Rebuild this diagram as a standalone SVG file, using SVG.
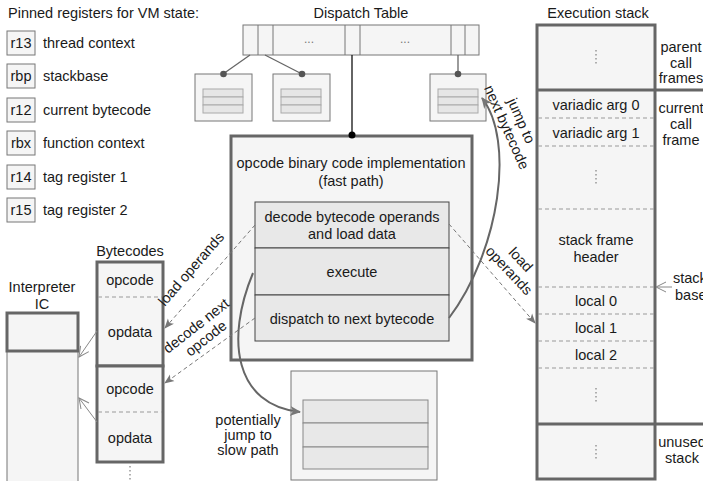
<svg xmlns="http://www.w3.org/2000/svg" width="703" height="481" viewBox="0 0 703 481">
<defs>
<style>
text{font-family:"Liberation Sans",Arial,sans-serif;font-size:14.5px;fill:#1a1a1a}
.c{text-anchor:middle}
.thick{fill:#f5f5f5;stroke:#666;stroke-width:3}
.thin{fill:#f5f5f5;stroke:#777;stroke-width:1}
.inner{fill:#e8e8e8;stroke:#444;stroke-width:1}
.stripe{fill:#e6e6e6;stroke:#aaa;stroke-width:1}
.dash{stroke:#999;stroke-width:1;stroke-dasharray:4,3;fill:none}
.vdots{stroke:#888;stroke-width:1.3;stroke-dasharray:1.5,2.5;fill:none}
.darr{stroke:#777;stroke-width:1;stroke-dasharray:4,3;fill:none;marker-end:url(#fill)}
.curve{stroke:#666;stroke-width:2;fill:none;marker-end:url(#fillbig)}
.oarr{stroke:#888;stroke-width:1;fill:none;marker-end:url(#open)}
.tline{stroke:#666;stroke-width:1.3;fill:none}
.dots{fill:#777;font-size:12px}
</style>
<marker id="fill" markerWidth="10" markerHeight="10" refX="9" refY="5" orient="auto" markerUnits="userSpaceOnUse"><path d="M0,1 L10,5 L0,9 L2.5,5 Z" fill="#777"/></marker>
<marker id="fillbig" markerWidth="12" markerHeight="12" refX="10" refY="6" orient="auto" markerUnits="userSpaceOnUse"><path d="M0,1 L11,6 L0,11 L3,6 Z" fill="#777"/></marker>
<marker id="open" markerWidth="12" markerHeight="12" refX="11" refY="6" orient="auto" markerUnits="userSpaceOnUse"><path d="M1,1 L11,6 L1,11" fill="none" stroke="#888" stroke-width="1"/></marker>
</defs>
<rect width="703" height="481" fill="#fff"/>

<g id="registers">
<text x="8" y="18">Pinned registers for VM state:</text>
<rect class="thin" x="7" y="31" width="28" height="24"/><text class="c" x="21" y="48">r13</text><text x="43" y="48">thread context</text>
<rect class="thin" x="7" y="64" width="28" height="24"/><text class="c" x="21" y="81">rbp</text><text x="43" y="81">stackbase</text>
<rect class="thin" x="7" y="98" width="28" height="24"/><text class="c" x="21" y="115">r12</text><text x="43" y="115">current bytecode</text>
<rect class="thin" x="7" y="131" width="28" height="24"/><text class="c" x="21" y="148">rbx</text><text x="43" y="148">function context</text>
<rect class="thin" x="7" y="165" width="28" height="24"/><text class="c" x="21" y="182">r14</text><text x="43" y="182">tag register 1</text>
<rect class="thin" x="7" y="198" width="28" height="24"/><text class="c" x="21" y="215">r15</text><text x="43" y="215">tag register 2</text>
</g>

<g id="dispatch-table">
<text class="c" x="361" y="18">Dispatch Table</text>
<rect class="thin" x="243" y="25" width="236" height="30"/>
<path d="M258,25V55M273,25V55M345,25V55M360,25V55M451,25V55M465,25V55" stroke="#777" stroke-width="1"/>
<text class="c dots" x="309" y="43">...</text>
<text class="c dots" x="405" y="43">...</text>
</g>

<g id="handler-1">
<rect class="thin" x="195" y="74" width="57" height="47"/>
<rect class="stripe" x="203" y="89" width="40" height="8"/><rect class="stripe" x="203" y="97" width="40" height="8"/><rect class="stripe" x="203" y="105" width="40" height="8"/>
</g>
<g id="handler-2">
<rect class="thin" x="273" y="74" width="57" height="47"/>
<rect class="stripe" x="281" y="89" width="40" height="8"/><rect class="stripe" x="281" y="97" width="40" height="8"/><rect class="stripe" x="281" y="105" width="40" height="8"/>
</g>
<g id="handler-3">
<rect class="thin" x="430" y="74" width="56" height="47"/>
<rect class="stripe" x="438" y="89" width="40" height="8"/><rect class="stripe" x="438" y="97" width="40" height="8"/><rect class="stripe" x="438" y="105" width="40" height="8"/>
</g>

<g id="fast-path">
<rect class="thick" x="231" y="136" width="241" height="224"/>
<text class="c" x="351" y="168">opcode binary code implementation</text>
<text class="c" x="351" y="186">(fast path)</text>
<rect class="inner" x="255" y="202" width="194" height="46"/>
<rect class="inner" x="255" y="248" width="194" height="47"/>
<rect class="inner" x="255" y="295" width="194" height="46"/>
<text class="c" x="352" y="222">decode bytecode operands</text>
<text class="c" x="352" y="239">and load data</text>
<text class="c" x="352" y="277">execute</text>
<text class="c" x="352" y="324">dispatch to next bytecode</text>
</g>

<g id="slow-path">
<rect class="thin" x="291" y="371" width="146" height="109"/>
<rect class="inner" x="303" y="400" width="125" height="23" style="stroke:#888"/>
<rect class="inner" x="303" y="423" width="125" height="24" style="stroke:#888"/>
<rect class="inner" x="303" y="447" width="125" height="22" style="stroke:#888"/>
</g>

<g id="bytecodes">
<text class="c" x="130" y="256">Bytecodes</text>
<rect class="thick" x="97" y="262" width="66" height="104"/>
<rect class="thick" x="97" y="366" width="66" height="96"/>
<line class="dash" x1="98" y1="297" x2="162" y2="297"/>
<line class="dash" x1="98" y1="412" x2="162" y2="412"/>
<text class="c" x="130" y="285">opcode</text>
<text class="c" x="130" y="337">opdata</text>
<text class="c" x="130" y="394">opcode</text>
<text class="c" x="130" y="443">opdata</text>
<line class="vdots" x1="130" y1="466" x2="130" y2="481"/>
</g>

<g id="interpreter-ic">
<text class="c" x="42" y="292">Interpreter</text>
<text class="c" x="42" y="309">IC</text>
<rect class="thin" x="7" y="351" width="71" height="135"/>
<rect class="thick" x="7" y="313" width="71" height="38"/>
</g>

<g id="execution-stack">
<text class="c" x="598" y="18">Execution stack</text>
<rect class="thick" x="537" y="25" width="118" height="454"/>
<line x1="537" y1="90" x2="703" y2="90" stroke="#666" stroke-width="3"/>
<line x1="537" y1="424" x2="703" y2="424" stroke="#666" stroke-width="3"/>
<line class="dash" x1="538" y1="118" x2="654" y2="118"/>
<line class="dash" x1="538" y1="146" x2="654" y2="146"/>
<line class="dash" x1="538" y1="209" x2="654" y2="209"/>
<line class="dash" x1="538" y1="287" x2="654" y2="287"/>
<line class="dash" x1="538" y1="314" x2="654" y2="314"/>
<line class="dash" x1="538" y1="341" x2="654" y2="341"/>
<line class="dash" x1="538" y1="368" x2="654" y2="368"/>
<line class="vdots" x1="596" y1="50" x2="596" y2="64"/>
<line class="vdots" x1="596" y1="170" x2="596" y2="184"/>
<line class="vdots" x1="596" y1="388" x2="596" y2="402"/>
<line class="vdots" x1="596" y1="445" x2="596" y2="459"/>
<text class="c" x="596" y="110">variadic arg 0</text>
<text class="c" x="596" y="138">variadic arg 1</text>
<text class="c" x="596" y="245">stack frame</text>
<text class="c" x="596" y="262">header</text>
<text class="c" x="596" y="306">local 0</text>
<text class="c" x="596" y="333">local 1</text>
<text class="c" x="596" y="360">local 2</text>
<text class="c" x="681" y="52">parent</text>
<text class="c" x="681" y="68">call</text>
<text class="c" x="681" y="83">frames</text>
<text class="c" x="681" y="113">current</text>
<text class="c" x="681" y="129">call</text>
<text class="c" x="681" y="145">frame</text>
<text x="673" y="283">stack</text>
<text x="675" y="300">base</text>
<text class="c" x="682" y="447">unused</text>
<text class="c" x="682" y="463">stack</text>
</g>

<g id="connectors">
<line class="tline" x1="250" y1="55" x2="223" y2="74"/>
<line class="tline" x1="265" y1="55" x2="302" y2="74"/>
<line class="tline" x1="458" y1="55" x2="458" y2="74"/>
<line x1="352" y1="55" x2="352" y2="135" stroke="#111" stroke-width="1.3"/>
<circle cx="223.5" cy="74" r="3.3" fill="#555"/>
<circle cx="302" cy="74" r="3.3" fill="#555"/>
<circle cx="458" cy="74" r="3.3" fill="#555"/>
<circle cx="352" cy="135" r="3.5" fill="#000"/>

<path class="darr" d="M255,225 L165,328"/>
<path class="darr" d="M255,318 L165,383"/>
<path class="darr" d="M449,224 L535,323"/>
<path class="curve" d="M449,318 C500,250 515,140 482,98"/>
<path class="curve" d="M253,273 C225,340 235,405 300,412"/>
<path class="oarr" d="M97,331 L79,357"/>
<path class="oarr" d="M97,422 L79,398"/>
<path class="oarr" d="M672,287 L656,287"/>

<g transform="translate(191,269) rotate(-49)"><text class="c" x="0" y="5">load operands</text></g>
<g transform="translate(201,332) rotate(-38)"><text class="c" x="0" y="-3">decode next</text><text class="c" x="0" y="13">opcode</text></g>
<g transform="translate(515,265) rotate(47)"><text class="c" x="0" y="-3">load</text><text class="c" x="0" y="13">operands</text></g>
<g transform="translate(514,124) rotate(66)"><text class="c" x="0" y="-3">jump to</text><text class="c" x="0" y="13">next bytecode</text></g>
<text class="c" x="248" y="425">potentially</text>
<text class="c" x="248" y="440">jump to</text>
<text class="c" x="248" y="455">slow path</text>
</g>
</svg>
